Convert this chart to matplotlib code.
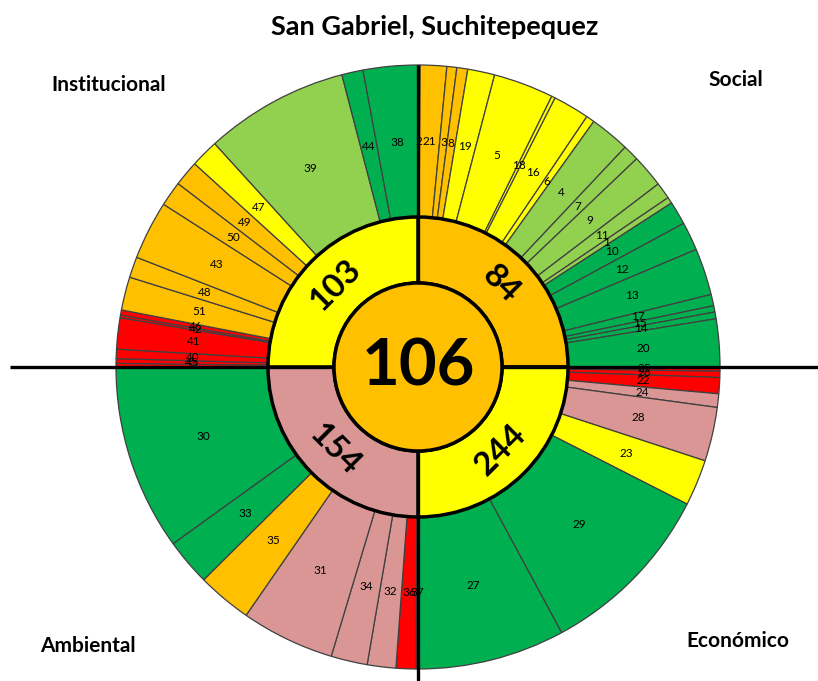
import matplotlib
matplotlib.use("Agg")
import matplotlib.pyplot as plt
from matplotlib.patches import Circle
import numpy as np

plt.rcParams['font.family'] = ['Lato', 'DejaVu Sans']

# ---------------- data ----------------
title = "San Gabriel, Suchitepequez"
dimensions = ["Social", "Económico", "Ambiental", "Institucional"]
dimension_scores = [84, 244, 154, 103]
dimension_levels = ["O", "Y", "P", "Y"]
total_score = 106

social_ids = [2, 21, 3, 8, 19, 5, 18, 16, 6, 4, 7, 9, 11, 1, 10, 12, 13, 17, 15, 14, 20]
social_spans = [0.4, 5.1, 1.9, 2.1, 5.2, 11.6, 0.7, 7.0, 1.6, 7.7, 3.1, 6.3, 3.2, 1.2,
                4.5, 5.5, 9.0, 2.2, 1.2, 1.3, 9.2]
social_levels = ["R", "O", "O", "O", "Y", "Y", "Y", "Y", "Y", "LG", "LG", "LG", "LG", "LG",
                 "G", "G", "G", "G", "G", "G", "G"]

economic_ids = [25, 26, 22, 24, 28, 23, 29, 27]
economic_spans = [0.8, 1.2, 3.1, 2.6, 10.4, 8.9, 34.6, 28.4]
economic_levels = ["R", "R", "R", "P", "P", "Y", "G", "G"]

environmental_ids = [37, 36, 32, 34, 31, 35, 33, 30]
environmental_spans = [0.4, 3.8, 5.5, 7.0, 18.0, 10.5, 9.0, 35.8]
environmental_levels = ["R", "R", "P", "P", "P", "O", "G", "G"]

institutional_ids = [52, 45, 40, 41, 42, 46, 51, 48, 43, 50, 49, 47, 39, 44, 38]
institutional_spans = [0.7, 0.9, 1.8, 6.0, 0.5, 1.0, 6.4, 4.0, 11.3, 4.8, 4.9, 5.4, 27.7, 4.1, 10.5]
institutional_levels = ["R", "R", "R", "R", "R", "R", "O", "O", "O", "O", "O", "Y", "LG", "G", "G"]

# ---------------- styles ----------------
level_colors = {"G": "#00B050", "LG": "#92D050", "Y": "#FFFF00",
                "O": "#FFC000", "R": "#FF0000", "P": "#D99694"}

W, H = 818, 681
cx, cy = 418, H - 367
R_out, R_mid, R_in = 302, 150, 84

fig = plt.figure(figsize=(W / 100, H / 100), dpi=100)
ax = fig.add_axes([0, 0, 1, 1])

all_ids = social_ids + economic_ids + environmental_ids + institutional_ids
all_spans = social_spans + economic_spans + environmental_spans + institutional_spans
all_levels = social_levels + economic_levels + environmental_levels + institutional_levels
quad_spans = [sum(social_spans), sum(economic_spans), sum(environmental_spans), sum(institutional_spans)]

outer, _ = ax.pie(all_spans, radius=R_out, center=(cx, cy), startangle=90, counterclock=False,
                  colors=[level_colors[l] for l in all_levels],
                  wedgeprops=dict(width=R_out - R_mid, edgecolor="#404040", linewidth=0.9))
for w in outer:
    w.set_zorder(2)

mid, _ = ax.pie(quad_spans, radius=R_mid, center=(cx, cy), startangle=90, counterclock=False,
                colors=[level_colors[l] for l in dimension_levels],
                wedgeprops=dict(width=R_mid - R_in, edgecolor="black", linewidth=2.5))
for w in mid:
    w.set_zorder(3)

# axis lines
ax.plot([10, W], [cy, cy], color="black", lw=2.4, zorder=4, solid_capstyle="butt")
ax.plot([cx, cx], [H - 65, 0], color="black", lw=2.4, zorder=4, solid_capstyle="butt")

ax.add_patch(Circle((cx, cy), R_in, facecolor="#FFC000", edgecolor="black", lw=2.5, zorder=5))
ax.text(cx, cy, str(total_score), ha="center", va="center", fontsize=47,
        fontweight="bold", zorder=6)

# outer labels
lab_r = 0.748 * R_out
for w, i in zip(outer, all_ids):
    a = np.deg2rad((w.theta1 + w.theta2) / 2)
    ax.text(cx + lab_r * np.cos(a), cy + lab_r * np.sin(a), str(i), ha="center", va="center",
            fontsize=8.5, zorder=6)

# middle labels
mr = (R_in + R_mid) / 2
for w, s in zip(mid, dimension_scores):
    m = (w.theta1 + w.theta2) / 2
    a = np.deg2rad(m)
    m_norm = (m + 180) % 360 - 180
    rot = m_norm - 90 if m_norm > 0 else m_norm + 90
    ax.text(cx + mr * np.cos(a), cy + mr * np.sin(a), str(s), ha="center", va="center",
            rotation=rot, rotation_mode="anchor", fontsize=24, fontweight="bold", zorder=6)

ax.text(435, H - 27, title, ha="center", va="center", fontsize=19.5, fontweight="bold")
ax.text(109, H - 85, dimensions[3], ha="center", va="center", fontsize=15, fontweight="bold")
ax.text(736, H - 80, dimensions[0], ha="center", va="center", fontsize=15, fontweight="bold")
ax.text(88, H - 646, dimensions[2], ha="center", va="center", fontsize=15, fontweight="bold")
ax.text(738, H - 641, dimensions[1], ha="center", va="center", fontsize=15, fontweight="bold")

ax.set_xlim(0, W)
ax.set_ylim(0, H)
ax.set_aspect("equal")
ax.axis("off")

fig.savefig("out.png", dpi=100)
